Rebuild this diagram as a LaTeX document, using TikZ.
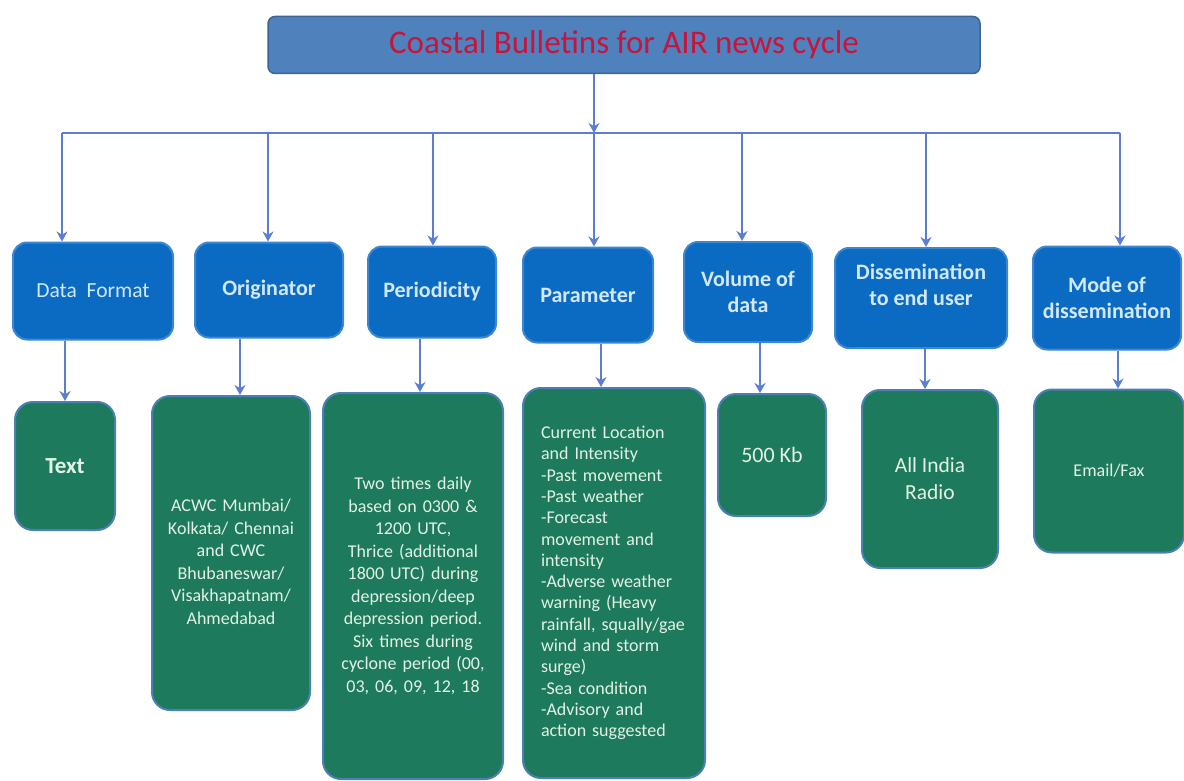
\documentclass[tikz,border=0pt]{standalone}
\usepackage{fontspec}
\setmainfont{Carlito}
\usetikzlibrary{arrows.meta}
\definecolor{topfill}{HTML}{4F81BD}
\definecolor{topdraw}{HTML}{3A6595}
\definecolor{titlered}{HTML}{C8143C}
\definecolor{bfill}{HTML}{0B6BC3}
\definecolor{bdraw}{HTML}{3D86D2}
\definecolor{btext}{HTML}{D2E8FF}
\definecolor{gfill}{HTML}{1E7A5C}
\definecolor{gdraw}{HTML}{4C7FB4}
\definecolor{gtext}{HTML}{E2F2E6}
\definecolor{arrcol}{HTML}{5B7ED2}
\tikzset{
  topbox/.style={draw=topdraw, fill=topfill, line width=1.5pt, rounded corners=7pt, text=titlered, font=\fontsize{33}{38}\selectfont, inner sep=0pt},
  bbox/.style={draw=bdraw, fill=bfill, line width=2pt, rounded corners=14pt, text=btext, align=center, inner sep=0pt, font=\fontsize{22}{26}\selectfont\bfseries},
  gbox/.style={draw=gdraw, fill=gfill, line width=2pt, rounded corners=18pt, text=gtext, align=center, inner sep=0pt, font=\fontsize{18}{22.5}\selectfont},
  arr/.style={draw=arrcol, line width=2.4pt, -{Stealth[length=10pt,width=11pt]}},
  ln/.style={draw=arrcol, line width=2.4pt}
}
\begin{document}
\begin{tikzpicture}[x=1pt,y=-1pt]
\useasboundingbox (0,0) rectangle (1184,781);
% top
\node[topbox, minimum width=712pt, minimum height=57pt] (top) at (624,45) {Coastal Bulletins for AIR news cycle};
% blue boxes
\node[bbox, minimum width=160pt, minimum height=97pt, font=\fontsize{21.5}{26}\selectfont] (b1) at (93,291) {Data\ \ Format};
\node[bbox, minimum width=148pt, minimum height=95pt] (b2) at (269,290) {Originator};
\node[bbox, minimum width=128pt, minimum height=91pt] (b3) at (432,292) {Periodicity};
\node[bbox, minimum width=130pt, minimum height=95pt] (b4) at (588,295) {Parameter};
\node[bbox, minimum width=128pt, minimum height=100pt] (b5) at (748,292) {Volume of\\data};
\node[bbox, minimum width=172pt, minimum height=100pt] (b6) at (921,298) {Dissemination\\to end user\\ ~};
\node[bbox, minimum width=148pt, minimum height=103pt] (b7) at (1107,298) {Mode of\\dissemination};
% green boxes
\node[gbox, minimum width=100pt, minimum height=128pt, font=\fontsize{23}{27}\selectfont\bfseries] (g1) at (65,466) {Text};
\node[gbox, minimum width=158pt, minimum height=314pt, text width=155pt] (g2) at (231,553) {\mbox{}\\[7.5pt]ACWC Mumbai/\\Kolkata/ Chennai\\and CWC\\Bhubaneswar/\\Visakhapatnam/\\Ahmedabad};
\node[gbox, minimum width=180pt, minimum height=386pt, text width=175pt] (g3) at (413,586) {\mbox{}\\[-10.5pt]Two times daily\\based on 0300 \&\\1200 UTC,\\Thrice (additional\\1800 UTC) during\\depression/deep\\depression period.\\Six times during\\cyclone period (00,\\03, 06, 09, 12, 18};
\node[gbox, minimum width=182pt, minimum height=390pt, text width=146pt, align=left, font=\fontsize{18}{21.3}\selectfont] (g4) at (614,583) {Current Location\\and Intensity\\-Past movement\\-Past weather\\-Forecast\\movement and\\intensity\\-Adverse weather\\warning (Heavy\\rainfall, squally/gae\\wind and storm\\surge)\\-Sea condition\\-Advisory and\\action suggested};
\node[gbox, minimum width=108pt, minimum height=122pt, font=\fontsize{22}{26}\selectfont] (g5) at (772,455) {500 Kb};
\node[gbox, minimum width=136pt, minimum height=178pt, font=\fontsize{21.5}{27}\selectfont] (g6) at (930,479) {All India\\Radio};
\node[gbox, minimum width=150pt, minimum height=163pt, font=\fontsize{18}{22}\selectfont] (g7) at (1109,471) {Email/Fax};
% coordinates
\coordinate (hc) at (594,133);
\coordinate (h1) at (62,133);
\coordinate (h2) at (268,133);
\coordinate (h3) at (433,133);
\coordinate (h5) at (742,133);
\coordinate (h6) at (926,133);
\coordinate (h7) at (1120,133);
\coordinate (x1) at (65,0);
\coordinate (x2) at (240,0);
\coordinate (x3) at (420,0);
\coordinate (x4) at (601,0);
\coordinate (x5) at (760,0);
\coordinate (x6) at (925,0);
\coordinate (x7) at (1118,0);
% connectors
\draw[ln] (h1) -- (h7);
\draw[arr] (top.south -| hc) -- (hc);
\draw[arr] (h1) -- (h1 |- b1.north);
\draw[arr] (h2) -- (h2 |- b2.north);
\draw[arr] (h3) -- (h3 |- b3.north);
\draw[arr] (hc) -- (hc |- b4.north);
\draw[arr] (h5) -- (h5 |- b5.north);
\draw[arr] (h6) -- (h6 |- b6.north);
\draw[arr] (h7) -- (h7 |- b7.north);
\draw[arr] (b1.south -| x1) -- (g1.north -| x1);
\draw[arr] (b2.south -| x2) -- (g2.north -| x2);
\draw[arr] (b3.south -| x3) -- (g3.north -| x3);
\draw[arr] (b4.south -| x4) -- (g4.north -| x4);
\draw[arr] (b5.south -| x5) -- (g5.north -| x5);
\draw[arr] (b6.south -| x6) -- (g6.north -| x6);
\draw[arr] (b7.south -| x7) -- (g7.north -| x7);
\end{tikzpicture}
\end{document}
